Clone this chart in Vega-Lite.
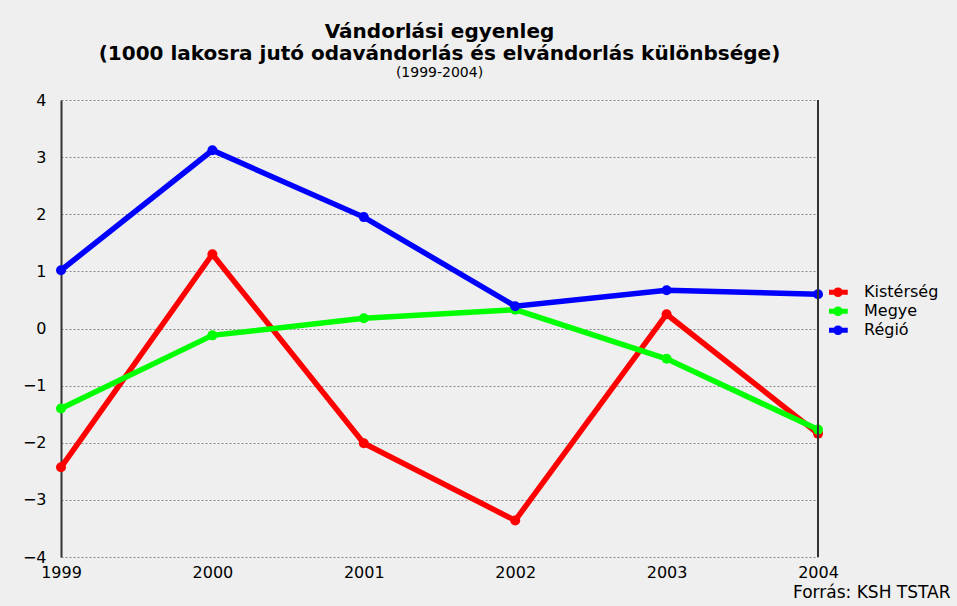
{
  "$schema": "https://vega.github.io/schema/vega-lite/v6.json",
  "width": 757,
  "height": 457,
  "autosize": "none",
  "padding": {"left": 61, "top": 100, "right": 139, "bottom": 49},
  "background": "#efefef",
  "title": {
    "text": ["Vándorlási egyenleg", "(1000 lakosra jutó odavándorlás és elvándorlás különbsége)"],
    "subtitle": "(1999-2004)",
    "font": "DejaVu Sans",
    "fontSize": 20,
    "fontWeight": "bold",
    "lineHeight": 22,
    "color": "#000000",
    "subtitleFont": "DejaVu Sans",
    "subtitleFontSize": 14,
    "subtitleColor": "#000000",
    "subtitlePadding": 2,
    "anchor": "middle",
    "offset": 12
  },
  "config": {"view": {"stroke": null}},
  "layer": [
    {
      "data": {
        "values": [
          {"year": 1999, "series": "Kistérség", "value": -2.43},
          {"year": 2000, "series": "Kistérség", "value": 1.3},
          {"year": 2001, "series": "Kistérség", "value": -2.01},
          {"year": 2002, "series": "Kistérség", "value": -3.36},
          {"year": 2003, "series": "Kistérség", "value": 0.25},
          {"year": 2004, "series": "Kistérség", "value": -1.84},
          {"year": 1999, "series": "Megye", "value": -1.4},
          {"year": 2000, "series": "Megye", "value": -0.12},
          {"year": 2001, "series": "Megye", "value": 0.18},
          {"year": 2002, "series": "Megye", "value": 0.33},
          {"year": 2003, "series": "Megye", "value": -0.53},
          {"year": 2004, "series": "Megye", "value": -1.77},
          {"year": 1999, "series": "Régió", "value": 1.02},
          {"year": 2000, "series": "Régió", "value": 3.12},
          {"year": 2001, "series": "Régió", "value": 1.95},
          {"year": 2002, "series": "Régió", "value": 0.39},
          {"year": 2003, "series": "Régió", "value": 0.67},
          {"year": 2004, "series": "Régió", "value": 0.6}
        ]
      },
      "mark": {"type": "line", "strokeWidth": 5.5, "point": {"filled": true, "size": 100}},
      "encoding": {
        "x": {
          "field": "year",
          "type": "quantitative",
          "scale": {"domain": [1999, 2004], "nice": false, "zero": false},
          "axis": {
            "values": [1999, 2000, 2001, 2002, 2003, 2004],
            "format": "d",
            "grid": false,
            "domain": false,
            "ticks": false,
            "labelFont": "DejaVu Sans",
            "labelFontSize": 16,
            "labelColor": "#000000",
            "labelPadding": 7,
            "labelFlush": false,
            "title": "Forrás: KSH TSTAR",
            "titleFont": "DejaVu Sans",
            "titleFontSize": 17,
            "titleFontWeight": "normal",
            "titleColor": "#000000",
            "titleAlign": "right",
            "titleAnchor": "end",
            "titleX": 889,
            "titleY": 40,
            "titleBaseline": "alphabetic"
          }
        },
        "y": {
          "field": "value",
          "type": "quantitative",
          "scale": {"domain": [-4, 4], "nice": false},
          "axis": {
            "values": [-4, -3, -2, -1, 0, 1, 2, 3, 4],
            "grid": true,
            "gridDash": [2, 2],
            "gridColor": "#888888",
            "gridWidth": 1,
            "domain": true,
            "domainColor": "#333333",
            "domainWidth": 2,
            "ticks": false,
            "labelFont": "DejaVu Sans",
            "labelFontSize": 16,
            "labelColor": "#000000",
            "labelPadding": 15,
            "title": null
          }
        },
        "color": {
          "field": "series",
          "type": "nominal",
          "scale": {"domain": ["Kistérség", "Megye", "Régió"], "range": ["#ff0000", "#00ff00", "#0000ff"]},
          "legend": {
            "orient": "none",
            "legendX": 768,
            "legendY": 183,
            "title": null,
            "labelFont": "DejaVu Sans",
            "labelFontSize": 16,
            "labelColor": "#000000",
            "labelOffset": 17,
            "symbolType": "M-1.5,0H1.5M-0.35,0A0.35,0.35 0 1,0 0.35,0A0.35,0.35 0 1,0 -0.35,0",
            "symbolStrokeWidth": 5,
            "symbolSize": 169,
            "rowPadding": 0,
            "clipHeight": 18.5
          }
        }
      }
    },
    {
      "data": {"values": [{"year": 2004}]},
      "mark": {"type": "rule", "color": "#333333", "strokeWidth": 2},
      "encoding": {"x": {"field": "year", "type": "quantitative"}}
    }
  ]
}
